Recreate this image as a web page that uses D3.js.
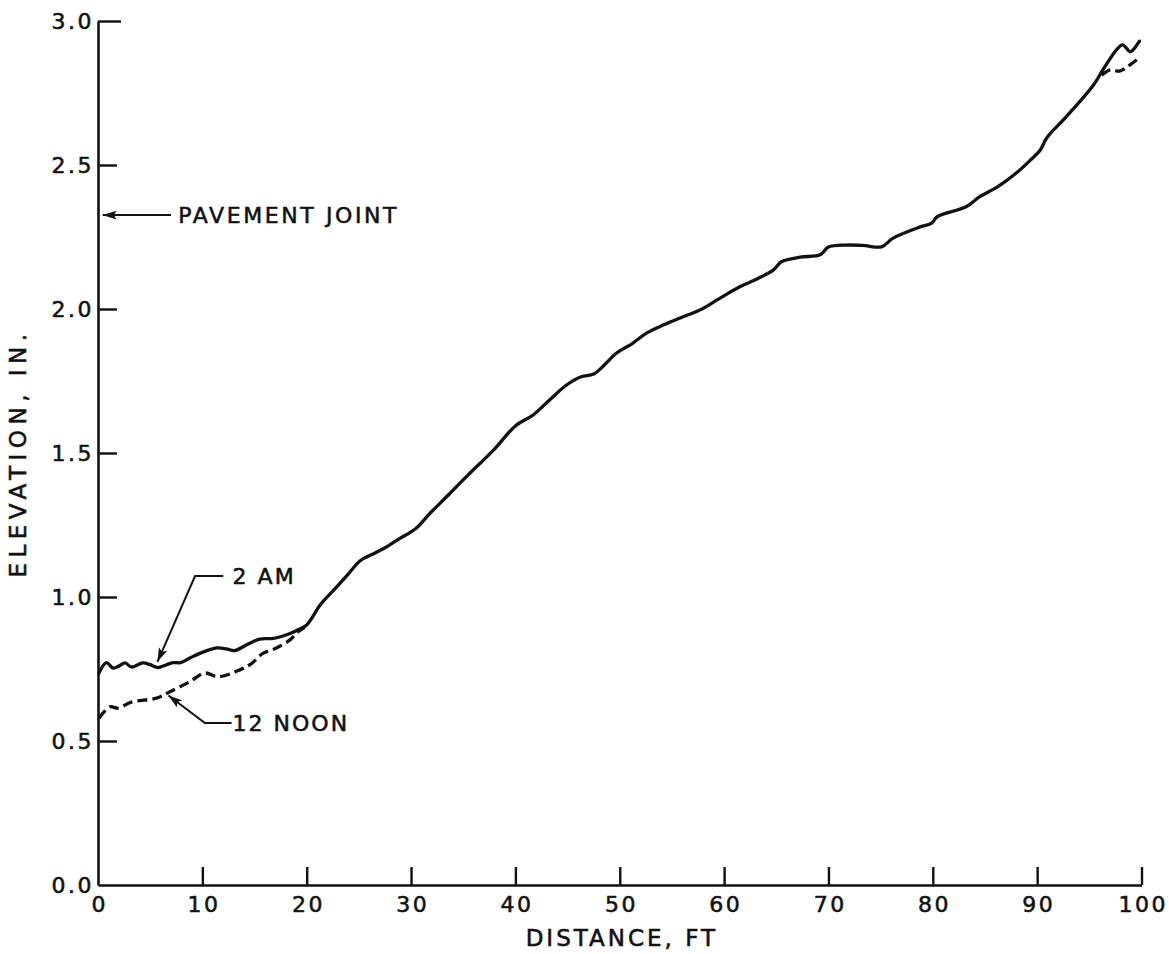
<!DOCTYPE html>
<html>
<head>
<meta charset="utf-8">
<script src="https://cdn.jsdelivr.net/npm/d3@7"></script>
<style>
  html, body { margin: 0; padding: 0; background: #fff; }
  svg text { font-family: "DejaVu Sans", sans-serif; fill: #111; stroke: #111; stroke-width: 0.55px; }
</style>
</head>
<body>
<svg id="chart" width="1169" height="954"></svg>
<script>
// ---- data ----
const xTicks = [0, 10, 20, 30, 40, 50, 60, 70, 80, 90, 100];
const yTicks = [0.0, 0.5, 1.0, 1.5, 2.0, 2.5, 3.0];
const yTickLabels = ["0.0", "0.5", "1.0", "1.5", "2.0", "2.5", "3.0"];

// 2 AM profile (distance ft, elevation in.)
const am2X = [0.1,0.8,1.45,2.0,2.6,3.2,4.3,5.0,5.75,6.5,7.2,7.9,8.8,9.8,11.4,12.3,13.1,14.3,15.5,16.8,18.0,19.0,20.0,20.5,21.2,22.9,24.0,25.1,26.5,27.7,29.0,30.4,31.8,33.4,35.5,37.9,40.0,41.7,43.3,44.9,46.3,47.5,48.5,49.7,51.2,52.6,54.2,55.8,57.7,59.5,61.5,63.2,64.7,65.5,67.3,69.2,70.0,71.7,73.3,75.1,76.2,78.8,79.9,80.4,83.2,84.5,86.2,88.0,89.3,90.3,90.9,92.8,95.4,96.3,97.6,98.2,98.9,99.2,99.8];
const am2Y = [0.736,0.772,0.753,0.760,0.771,0.757,0.771,0.765,0.755,0.764,0.772,0.772,0.788,0.805,0.823,0.820,0.814,0.835,0.854,0.856,0.868,0.883,0.903,0.927,0.968,1.036,1.080,1.125,1.152,1.175,1.205,1.236,1.290,1.348,1.425,1.510,1.594,1.632,1.685,1.736,1.765,1.774,1.805,1.847,1.880,1.917,1.945,1.969,1.997,2.035,2.077,2.105,2.135,2.164,2.180,2.188,2.215,2.222,2.221,2.216,2.246,2.285,2.298,2.320,2.355,2.390,2.424,2.472,2.515,2.552,2.593,2.668,2.778,2.830,2.900,2.917,2.893,2.900,2.930];

// 12 NOON profile: where it departs from the 2 AM profile
const noonStartX = [0.1,1.15,1.9,3.2,5.6,6.9,8.8,10.25,11.5,13.6,14.7,15.8,17.1,18.4,19.2,19.8];
const noonStartY = [0.579,0.619,0.614,0.635,0.649,0.671,0.706,0.736,0.723,0.747,0.769,0.804,0.823,0.851,0.880,0.895];
const noonEndX = [96.2,97.0,97.9,98.6,99.7];
const noonEndY = [2.812,2.830,2.826,2.840,2.870];

// annotations
const jointLabel = "PAVEMENT  JOINT";
const jointY = 2.326;
const amLabel = "2  AM";
const noonLabel = "12 NOON";

// ---- chart ----
const svg = d3.select("#chart");
const x = d3.scaleLinear().domain([0, 100]).range([98, 1141.5]);
const y = d3.scaleLinear().domain([0, 3]).range([885, 21]);

const fontSize = 22;

const yAxis = d3.axisLeft(y).tickValues(yTicks).tickSize(-19).tickSizeOuter(0)
  .tickPadding(4).tickFormat((d, i) => yTickLabels[i]);
const gy = svg.append("g").attr("transform", `translate(${x(0)},0)`).call(yAxis);

const xAxis = d3.axisBottom(x).tickValues(xTicks).tickSize(-18).tickSizeOuter(0)
  .tickPadding(11).tickFormat(d => String(d));
const gx = svg.append("g").attr("transform", `translate(0,${y(0)})`).call(xAxis);

[gx, gy].forEach(g => {
  g.select(".domain").attr("stroke", "#111").attr("stroke-width", 2.6);
  g.selectAll(".tick line").attr("stroke", "#111").attr("stroke-width", 2.4);
  g.selectAll(".tick text").attr("font-size", fontSize).attr("letter-spacing", "2.5px")
    .style("font-family", "DejaVu Sans, sans-serif").attr("fill", "#111");
});
gx.selectAll(".tick text").attr("dx", "1.2px");
gx.selectAll(".tick").filter(d => d === 0).select("line").remove();
gy.selectAll(".tick").filter(d => d === 0).select("line").remove();
gy.selectAll(".tick").filter(d => d === 3).select("line").attr("x2", 23);
gy.selectAll(".tick text").attr("dy", "0.36em");

// axis titles
svg.append("text")
  .attr("x", x(50.2)).attr("y", 946)
  .attr("text-anchor", "middle").attr("font-size", 23).attr("letter-spacing", "3px")
  .text("DISTANCE,  FT");
svg.append("text")
  .attr("transform", `translate(26,${y(1.5)}) rotate(-90)`)
  .attr("text-anchor", "middle").attr("font-size", 23).attr("letter-spacing", "5.5px")
  .text("ELEVATION,  IN.");

// curves
const line = d3.line().x(d => x(d[0])).y(d => y(d[1])).curve(d3.curveCatmullRom.alpha(0.5));
const am2 = am2X.map((v, i) => [v, am2Y[i]]);
const noonA = noonStartX.map((v, i) => [v, noonStartY[i]]);
const noonB = noonEndX.map((v, i) => [v, noonEndY[i]]);

svg.append("path").datum(am2).attr("d", line)
  .attr("fill", "none").attr("stroke", "#111").attr("stroke-width", 3.3)
  .attr("stroke-linejoin", "round").attr("stroke-linecap", "round");
[noonA, noonB].forEach(seg => {
  svg.append("path").datum(seg).attr("d", line)
    .attr("fill", "none").attr("stroke", "#111").attr("stroke-width", 3.3)
    .attr("stroke-dasharray", "10,5");
});

// arrow marker
svg.append("defs").append("marker")
  .attr("id", "arrow").attr("viewBox", "0 0 14 9")
  .attr("refX", 14).attr("refY", 4.5)
  .attr("markerWidth", 14).attr("markerHeight", 9)
  .attr("markerUnits", "userSpaceOnUse").attr("orient", "auto")
  .append("path").attr("d", "M0,0 L14,4.5 L0,9 L3,4.5 Z").attr("fill", "#111");

function leader(points) {
  svg.append("path")
    .attr("d", d3.line().x(d => x(d[0])).y(d => y(d[1]))(points))
    .attr("fill", "none").attr("stroke", "#111").attr("stroke-width", 2)
    .attr("marker-end", "url(#arrow)");
}

// pavement joint
leader([[7.0, jointY], [0.45, jointY]]);
svg.append("text").attr("x", x(7.7)).attr("y", y(jointY)).attr("dy", "0.36em")
  .attr("font-size", fontSize).attr("letter-spacing", "2.6px").text(jointLabel);

// 2 AM
leader([[12.0, 1.073], [9.3, 1.073], [5.7, 0.775]]);
svg.append("text").attr("x", x(12.9)).attr("y", y(1.073)).attr("dy", "0.36em")
  .attr("font-size", fontSize).attr("letter-spacing", "2px").text(amLabel);

// 12 NOON
leader([[12.8, 0.5625], [10.25, 0.5625], [6.75, 0.658]]);
svg.append("text").attr("x", x(12.9)).attr("y", y(0.5625)).attr("dy", "0.36em")
  .attr("font-size", fontSize).attr("letter-spacing", "2px").text(noonLabel);
</script>
</body>
</html>
